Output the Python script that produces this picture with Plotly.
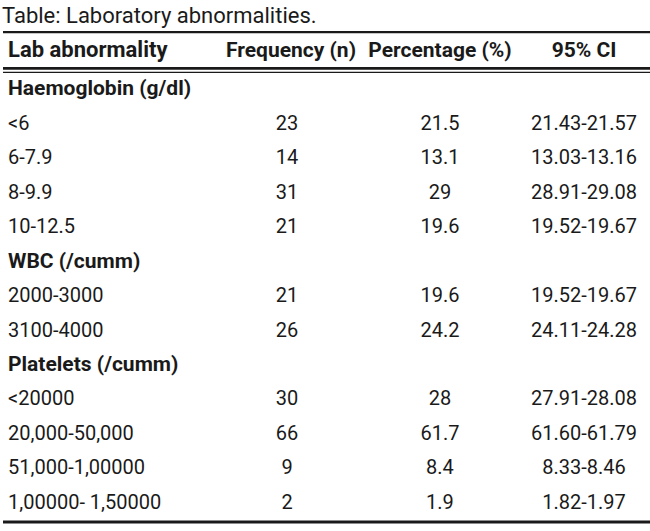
import plotly.graph_objects as go

# table content
title = "Table: Laboratory abnormalities."
columns = ["Lab abnormality", "Frequency (n)", "Percentage (%)", "95% CI"]

labels = ["Haemoglobin (g/dl)", "<6", "6-7.9", "8-9.9", "10-12.5",
          "WBC (/cumm)", "2000-3000", "3100-4000",
          "Platelets (/cumm)", "<20000", "20,000-50,000", "51,000-1,00000", "1,00000- 1,50000"]
frequency = [None, 23, 14, 31, 21, None, 21, 26, None, 30, 66, 9, 2]
percentage = [None, 21.5, 13.1, 29, 19.6, None, 19.6, 24.2, None, 28, 61.7, 8.4, 1.9]
ci_95 = [None, "21.43-21.57", "13.03-13.16", "28.91-29.08", "19.52-19.67", None,
         "19.52-19.67", "24.11-24.28", None, "27.91-28.08", "61.60-61.79", "8.33-8.46", "1.82-1.97"]
section_rows = [0, 5, 8]

FONT = "Roboto, Liberation Sans, sans-serif"
INK = "#1a1a1a"
SIZE = 20

# layout helpers (row index -> pixel: 90 + 34.5*i)
col_x = [8, 287, 440, 584]
head_y = -1.12


def esc(s):
    return s.replace("<", "&lt;")


def fmt(v):
    if v is None:
        return ""
    return v if isinstance(v, str) else f"{v:g}"


rows = list(range(len(labels)))
body = [i for i in rows if i not in section_rows]

fig = go.Figure()

# section headers (bold)
fig.add_trace(go.Scatter(
    x=[col_x[0]] * len(section_rows), y=section_rows,
    text=[esc(labels[i]) for i in section_rows],
    mode="text", textposition="middle right", cliponaxis=False,
    textfont=dict(family=FONT, size=SIZE + 1, color=INK, weight="bold"),
    hoverinfo="skip"))

# body labels
fig.add_trace(go.Scatter(
    x=[col_x[0]] * len(body), y=body,
    text=[esc(labels[i]) for i in body],
    mode="text", textposition="middle right", cliponaxis=False,
    textfont=dict(family=FONT, size=SIZE, color=INK),
    hoverinfo="skip"))

# numeric columns
for cx, vals in zip(col_x[1:], [frequency, percentage, ci_95]):
    fig.add_trace(go.Scatter(
        x=[cx] * len(body), y=body,
        text=[fmt(vals[i]) for i in body],
        mode="text", textposition="middle center", cliponaxis=False,
        textfont=dict(family=FONT, size=SIZE, color=INK),
        hoverinfo="skip"))

# column headers
fig.add_trace(go.Scatter(
    x=[col_x[0]], y=[head_y], text=[columns[0]],
    mode="text", textposition="middle right", cliponaxis=False,
    textfont=dict(family=FONT, size=SIZE + 2, color=INK, weight="bold"),
    hoverinfo="skip"))
fig.add_trace(go.Scatter(
    x=[291, 440, 584], y=[head_y] * 3, text=columns[1:],
    mode="text", textposition="middle center", cliponaxis=False,
    textfont=dict(family=FONT, size=SIZE + 1, color=INK, weight="bold"),
    hoverinfo="skip"))

# rules
for y0, w in [(-1.68, 2.2), (-0.625, 2.8), (-0.51, 1.2), (12.52, 3)]:
    fig.add_shape(type="line", xref="x", yref="y", x0=3, x1=650, y0=y0, y1=y0,
                  line=dict(color=INK, width=w))

fig.add_annotation(x=0, y=-2.17, xref="x", yref="y", text=title, showarrow=False,
                   xanchor="left", yanchor="middle",
                   font=dict(family=FONT, size=SIZE + 2, color=INK))

fig.update_xaxes(range=[0, 650], visible=False, fixedrange=True)
fig.update_yaxes(range=[12.783, -2.609], visible=False, fixedrange=True)
fig.update_layout(width=650, height=531, margin=dict(l=0, r=0, t=0, b=0),
                  showlegend=False, plot_bgcolor="white", paper_bgcolor="white")

# drop the default page margin so the figure sits at the window corner
fig.write_html("out.html", config={"displayModeBar": False},
               post_script="document.body.style.margin = '0';")
